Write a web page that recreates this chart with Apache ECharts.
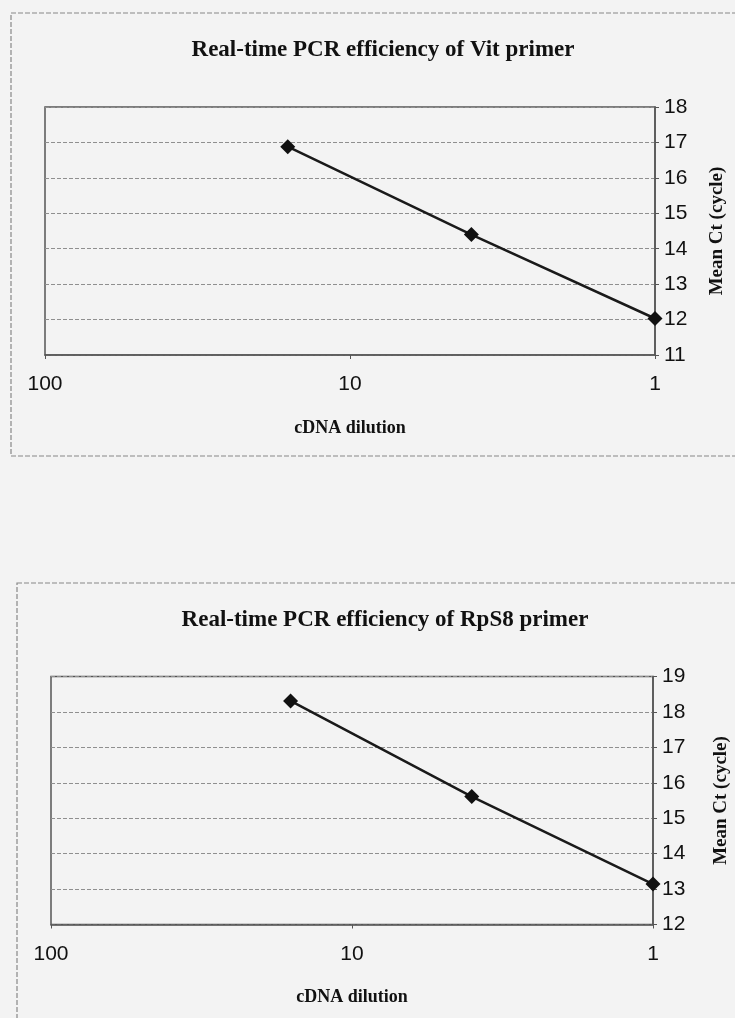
<!DOCTYPE html>
<html>
<head>
<meta charset="utf-8">
<script src="https://cdn.jsdelivr.net/npm/echarts@6/dist/echarts.min.js"></script>
<style>
html,body{margin:0;padding:0;background:#f3f3f3;}
#c{width:735px;height:1018px;}
</style>
</head>
<body>
<div id="c"></div>
<script>
// Data
var dilutions = [16, 4, 1];
var vitCt = [16.88, 14.4, 12.03];
var rps8Ct = [18.31, 15.61, 13.14];
var xTicks = [1, 10, 100];
var titles = ['Real-time PCR efficiency of Vit primer', 'Real-time PCR efficiency of RpS8 primer'];
var xName = 'cDNA dilution';
var yName = 'Mean Ct (cycle)';

function pairs(xs, ys){ return xs.map(function(x,i){ return [x, ys[i]]; }); }

var serif = '"Liberation Serif","DejaVu Serif",serif';
var sans = '"Liberation Sans",Arial,sans-serif';

function xAxis(gi){
  return {
    type:'log', logBase:10, min:xTicks[0], max:xTicks[xTicks.length-1], inverse:true, gridIndex:gi,
    name:xName, nameLocation:'middle', nameGap:64,
    nameTextStyle:{fontFamily:serif, fontWeight:'bold', fontSize:18, color:'#111'},
    axisLine:{show:true, lineStyle:{color:'#555', width:1.5}},
    axisTick:{show:true, length:4, lineStyle:{color:'#555'}},
    minorTick:{show:false},
    splitLine:{show:false},
    axisLabel:{fontFamily:sans, fontSize:21, color:'#111', margin:19, formatter:function(v){return String(Math.round(v));}}
  };
}
function yAxis(gi, mn, mx, gap){
  return {
    type:'value', min:mn, max:mx, interval:1, position:'right', gridIndex:gi,
    name:yName, nameLocation:'middle', nameGap:gap, nameRotate:90,
    nameTextStyle:{fontFamily:serif, fontWeight:'bold', fontSize:19, color:'#111'},
    axisLine:{show:true, lineStyle:{color:'#555', width:1.5}},
    axisTick:{show:true, length:4, lineStyle:{color:'#555'}},
    splitLine:{show:true, lineStyle:{color:'#8f8f8f', width:1, type:[4,2]}},
    axisLabel:{fontFamily:sans, fontSize:21, color:'#111', margin:9}
  };
}
function series(gi, ys){
  return {
    type:'line', xAxisIndex:gi, yAxisIndex:gi, data:pairs(dilutions, ys),
    symbol:'diamond', symbolSize:15, showSymbol:true,
    lineStyle:{color:'#1a1a1a', width:2.5}, itemStyle:{color:'#111'}, animation:false
  };
}

var chart = echarts.init(document.getElementById('c'), null, {renderer:'canvas'});
chart.setOption({
  backgroundColor:'#f3f3f3',
  animation:false,
  title:[
    {text:titles[0], left:378, top:34, textAlign:'center', textStyle:{fontFamily:serif, fontWeight:'bold', fontSize:23, color:'#111'}},
    {text:titles[1], left:380, top:604, textAlign:'center', textStyle:{fontFamily:serif, fontWeight:'bold', fontSize:23, color:'#111'}}
  ],
  grid:[
    {left:45, top:107, width:610, height:248, show:true, borderColor:'#555', borderWidth:1.5, backgroundColor:'transparent', containLabel:false, outerBoundsMode:'none'},
    {left:51, top:676.5, width:602, height:248, show:true, borderColor:'#555', borderWidth:1.5, backgroundColor:'transparent', containLabel:false, outerBoundsMode:'none'}
  ],
  xAxis:[xAxis(0), xAxis(1)],
  yAxis:[yAxis(0, 11, 18, 53), yAxis(1, 12, 19, 59)],
  series:[series(0, vitCt), series(1, rps8Ct)],
  graphic:[
    {type:'rect', shape:{x:11, y:13, width:740, height:443}, style:{fill:'none', stroke:'#888', lineWidth:1.2, lineDash:[5,2]}, silent:true, z:-1},
    {type:'rect', shape:{x:17, y:583, width:740, height:500}, style:{fill:'none', stroke:'#888', lineWidth:1.2, lineDash:[5,2]}, silent:true, z:-1}
  ]
});
</script>
</body>
</html>
